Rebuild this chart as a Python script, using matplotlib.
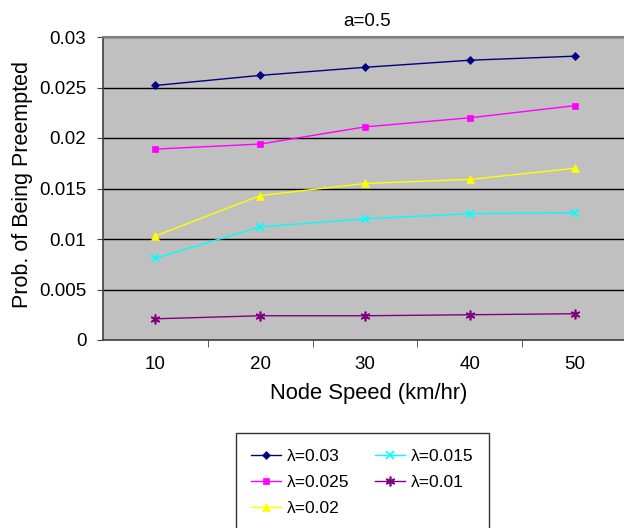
import matplotlib
matplotlib.use("Agg")
import matplotlib.pyplot as plt
import numpy as np

# ---- data ----
speeds = ["10", "20", "30", "40", "50"]
labels = ["λ=0.03", "λ=0.025", "λ=0.02", "λ=0.015", "λ=0.01"]
lam_003 = [0.0252, 0.0262, 0.0270, 0.0277, 0.0281]
lam_0025 = [0.0189, 0.0194, 0.0211, 0.0220, 0.0232]
lam_002 = [0.0103, 0.0143, 0.0155, 0.0159, 0.0170]
lam_0015 = [0.0081, 0.0112, 0.0120, 0.0125, 0.0126]
lam_001 = [0.0021, 0.0024, 0.0024, 0.0025, 0.0026]
yticks = [0, 0.005, 0.01, 0.015, 0.02, 0.025, 0.03]
ytick_labels = ["0", "0.005", "0.01", "0.015", "0.02", "0.025", "0.03"]

plt.rcParams['font.family'] = ['Liberation Sans', 'DejaVu Sans']

W, H = 624, 528
fig = plt.figure(figsize=(W / 100, H / 100), dpi=100)
ax = fig.add_axes([103 / W, 1 - 340 / H, 524 / W, 303 / H])
ax.set_facecolor('#C0C0C0')

x = np.arange(1, len(speeds) + 1)
series = [lam_003, lam_0025, lam_002, lam_0015, lam_001]
colors = ['#000080', '#FF00FF', '#FFFF00', '#00FFFF', '#800080']
markers = ['D', 's', '^', 'x', (6, 2, 0)]
msizes = [4, 5, 6, 6, 7]
for vals, c, m, ms, lab in zip(series, colors, markers, msizes, labels):
    ax.plot(x, vals, color=c, marker=m, markersize=ms, lw=1.0, label=lab,
            markeredgewidth=1.2 if m in ('x', (6, 2, 0)) else 0.5,
            markeredgecolor=c, markerfacecolor=c, zorder=3)

ax.set_xlim(0.5, len(speeds) + 0.5)
ax.set_ylim(0, 0.03)
ax.set_yticks(yticks)
ax.set_yticklabels(ytick_labels)
ax.yaxis.grid(True, color='black', lw=1.0)
ax.set_axisbelow(True)

ax.set_xticks(x)
ax.set_xticklabels(speeds)
ax.set_xticks(np.arange(1.5, len(speeds), 1.0), minor=True)
ax.tick_params(axis='x', which='major', length=0, pad=11.5, labelsize=13.5)
ax.tick_params(axis='x', which='minor', length=5, direction='out', color='#404040')
ax.tick_params(axis='y', length=4, direction='out', pad=8, labelsize=13.5, color='#404040')

for s in ['left', 'bottom']:
    ax.spines[s].set_color('#404040')
    ax.spines[s].set_linewidth(1.2)
ax.spines['top'].set_color('#808080')
ax.spines['top'].set_linewidth(1.5)
ax.spines['right'].set_visible(False)

fig.text(367 / W, 1 - 26 / H, "a=0.5", ha='center', va='baseline', fontsize=13.5)
fig.text(369 / W, 1 - 399 / H, "Node Speed (km/hr)", ha='center', va='baseline', fontsize=15.8)
fig.text(23 / W, 1 - 185 / H, "Prob. of Being Preempted", ha='center', va='center',
         rotation=90, fontsize=15.5)

leg = fig.legend(loc='upper left', bbox_to_anchor=(235.7 / W, 1 - 433.3 / H), ncol=2,
                 fontsize=12.5, frameon=True, fancybox=False, edgecolor='black',
                 borderaxespad=0, borderpad=0.9, handlelength=1.7, handletextpad=0.35,
                 columnspacing=1.5, labelspacing=0.62)
leg.get_frame().set_linewidth(1.0)

fig.savefig("out.png", dpi=100, facecolor='white')
